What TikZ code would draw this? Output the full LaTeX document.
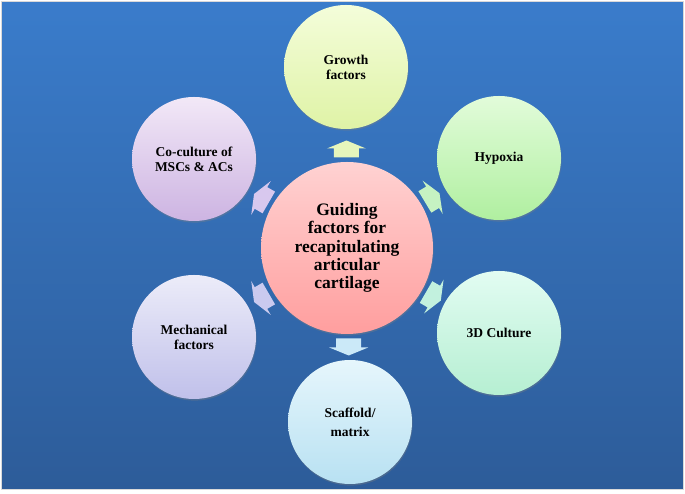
\documentclass[tikz,border=0pt]{standalone}
\usepackage{fontspec}
\setmainfont{Liberation Serif}
\usetikzlibrary{calc,shadows}
\definecolor{bgtop}{HTML}{3A7CCB}
\definecolor{bgbot}{HTML}{2D5C99}
\definecolor{ctrT}{HTML}{FFD2D2}
\definecolor{ctrB}{HTML}{FF9E9E}
\definecolor{grT}{HTML}{F4FDDA}
\definecolor{grB}{HTML}{DFF3A6}
\definecolor{hyT}{HTML}{E2FCDA}
\definecolor{hyB}{HTML}{B0EFA0}
\definecolor{tdT}{HTML}{E2FCF2}
\definecolor{tdB}{HTML}{B6EFD2}
\definecolor{scT}{HTML}{E6F6FC}
\definecolor{scB}{HTML}{B8E1F2}
\definecolor{meT}{HTML}{ECECF9}
\definecolor{meB}{HTML}{C0C0EA}
\definecolor{coT}{HTML}{F2E8F7}
\definecolor{coB}{HTML}{CDB4E2}
\definecolor{grA}{HTML}{E6F6BC}
\definecolor{hyA}{HTML}{C6F2C2}
\definecolor{tdA}{HTML}{C2F1DE}
\definecolor{scA}{HTML}{CBE9F8}
\definecolor{meA}{HTML}{CACAEF}
\definecolor{coA}{HTML}{D8C8EE}
\tikzset{
  circ/.style={circle, inner sep=0pt, minimum size=124pt, align=center,
    font=\fontsize{13.5}{15}\selectfont\bfseries,
    drop shadow={opacity=0.35, shadow xshift=0.6pt, shadow yshift=-1.6pt}},
  ctrcirc/.style={circle, inner sep=0pt, minimum size=172pt, align=center,
    font=\fontsize{17.5}{18.3}\selectfont\bfseries,
    drop shadow={opacity=0.35, shadow xshift=0.6pt, shadow yshift=-1.6pt}}
}
\newcommand\blockarrow[3]{%
  \fill[#3, shift={($(ctr)!99pt!(#1)$)}, rotate=#2]
    (-8.5,-12.5) -- (0.5,-12.5) -- (0.5,-19.5) -- (8.5,0) -- (0.5,19.5)
    -- (0.5,12.5) -- (-8.5,12.5) -- cycle;}
\begin{document}
\begin{tikzpicture}[x=1pt,y=1pt]
\useasboundingbox (0,0) rectangle (685,494);
\fill[white] (0,0) rectangle (685,494);
\shade[top color=bgtop, bottom color=bgbot, draw=gray!30, line width=0.8pt]
  (1.5,4.5) rectangle (683.5,492.5);
\node[ctrcirc, top color=ctrT, bottom color=ctrB] (ctr) at (347,246)
  {Guiding\\factors for\\recapitulating\\articular\\cartilage};
\node[circ, top color=grT, bottom color=grB] (growth) at (346,427) {Growth\\factors};
\node[circ, top color=hyT, bottom color=hyB] (hypoxia) at (499,336) {Hypoxia};
\node[circ, top color=tdT, bottom color=tdB] (culture) at (499,161) {3D Culture};
\node[circ, top color=scT, bottom color=scB, font=\fontsize{13.5}{19}\selectfont\bfseries] (scaffold) at (350,72) {Scaffold/\\matrix};
\node[circ, top color=meT, bottom color=meB] (mech) at (194,157) {Mechanical\\factors};
\node[circ, top color=coT, bottom color=coB] (cocult) at (194,335) {Co-culture of\\MSCs \& ACs};
\blockarrow{growth}{90}{grA}
\blockarrow{hypoxia}{31}{hyA}
\blockarrow{culture}{-30}{tdA}
\blockarrow{scaffold}{-90}{scA}
\blockarrow{mech}{210}{meA}
\blockarrow{cocult}{150}{coA}
\end{tikzpicture}
\end{document}
